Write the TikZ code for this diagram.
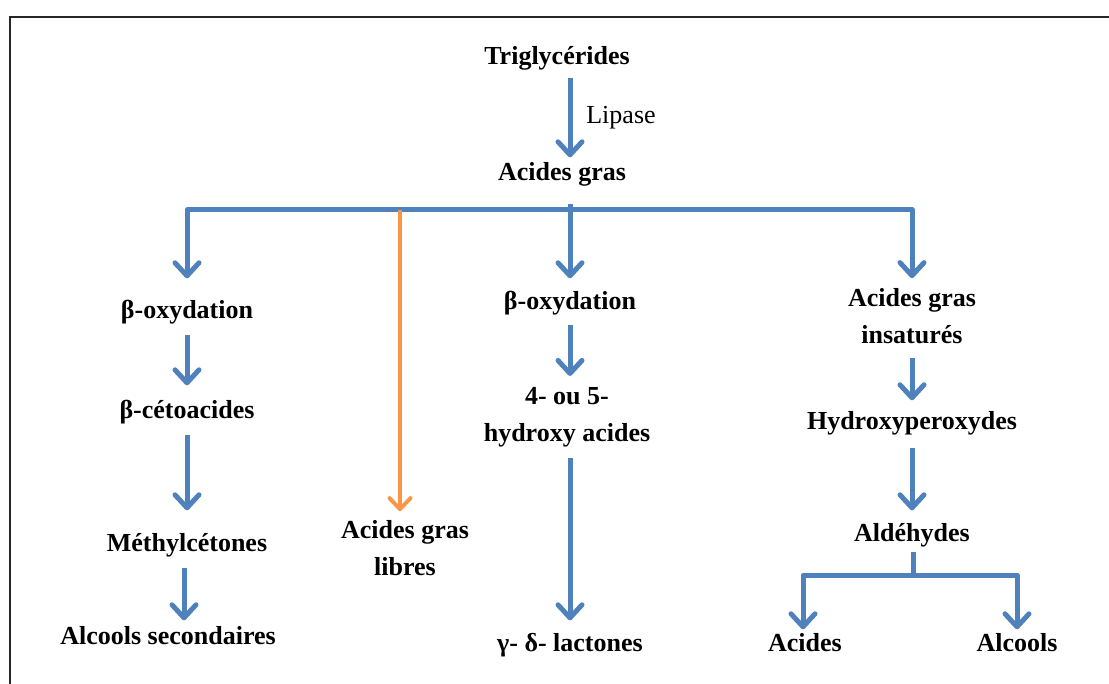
\documentclass[tikz,border=0pt]{standalone}
\usepackage{fontspec}
\setmainfont{Liberation Serif}
\usetikzlibrary{arrows.meta}
\definecolor{ablue}{RGB}{79,129,189}
\definecolor{aorange}{RGB}{247,150,70}
\begin{document}
\begin{tikzpicture}[x=1pt,y=-1pt,
  lbl/.style={font=\fontsize{26}{37}\selectfont\bfseries, align=center, inner sep=0pt},
  one/.style={lbl, text height=19pt, text depth=6pt},
  bline/.style={draw=ablue, line width=5pt, line join=round},
  flow/.style={bline, -{Straight Barb[length=13pt,width=24pt,line width=5pt,line join=round,line cap=round]}},
  oflow/.style={draw=aorange, line width=3.5pt, -{Straight Barb[length=11pt,width=21pt,line width=4pt,line join=round,line cap=round]}},
  frame/.style={draw=black!85, line width=2.2pt}]
\useasboundingbox (0,0) rectangle (1109,684);
\draw[frame] (10,684) -- (10,17) -- (1109,17);

% nodes
\node[one] (trig) at (557,58) {Triglycérides};
\node[one, font=\fontsize{26}{37}\selectfont] (lip) at (621,117) {Lipase};
\node[one] (ag) at (562,174) {Acides gras};
\coordinate (j) at (570,210);

\node[one] (L1) at (187,312) {β-oxydation};
\node[one] (L2) at (187,412) {β-cétoacides};
\node[one] (L3) at (187,545) {Méthylcétones};
\node[one] (L4) at (168,638) {Alcools secondaires};

\node[lbl] (AGL) at (405,548) {Acides gras\\libres};

\node[one] (M1) at (570,303) {β-oxydation};
\node[lbl] (M2) at (567,417) {4- ou 5-\\hydroxy acides};
\node[one] (M3) at (570,645) {γ- δ- lactones};

\node[lbl] (R1) at (912,316) {Acides gras\\insaturés};
\node[one] (R2) at (912,423) {Hydroxyperoxydes};
\node[one] (R3) at (912,535) {Aldéhydes};
\coordinate (k) at (913,575);
\node[one] (R4) at (805,645) {Acides};
\node[one] (R5) at (1017,645) {Alcools};

% connectors
\draw[flow, shorten <=7pt, shorten >=4pt] (trig.south -| j) -- (ag.north -| j);
\draw[bline, shorten <=17pt] (ag.south -| j) -- (j);
\draw[flow, shorten >=21pt] (j) -| (L1.north);
\draw[flow, shorten >=10pt] (j) -| (R1.north);
\draw[flow, shorten >=12pt] (j) -- (M1.north);
\draw[oflow, shorten >=9pt] ([xshift=-5pt]AGL.north |- j) -- ([xshift=-5pt]AGL.north);

\draw[flow, shorten <=10pt, shorten >=14pt] (L1.south) -- (L2.north);
\draw[flow, shorten <=10pt, shorten >=22pt] (L2.south) -- (L3.north);
\draw[flow, shorten <=10pt, shorten >=5pt] ([xshift=-3pt]L3.south) -- ([xshift=-3pt]L3.south |- L4.north);

\draw[flow, shorten <=9pt, shorten >=11pt] (M1.south) -- (M1.south |- M2.north);
\draw[flow, shorten <=11pt, shorten >=12pt] (M1.south |- M2.south) -- (M3.north -| M1.south);

\draw[flow, shorten <=14pt, shorten >=10pt] (R1.south) -- (R2.north);
\draw[flow, shorten <=12pt, shorten >=12pt] (R2.south) -- (R3.north);
\draw[bline, shorten <=4pt] (R3.south -| k) -- (k);
\draw[flow, shorten >=3pt] (k) -| ([xshift=-2pt]R4.north);
\draw[flow, shorten >=3pt] (k) -| (R5.north);
\end{tikzpicture}
\end{document}
